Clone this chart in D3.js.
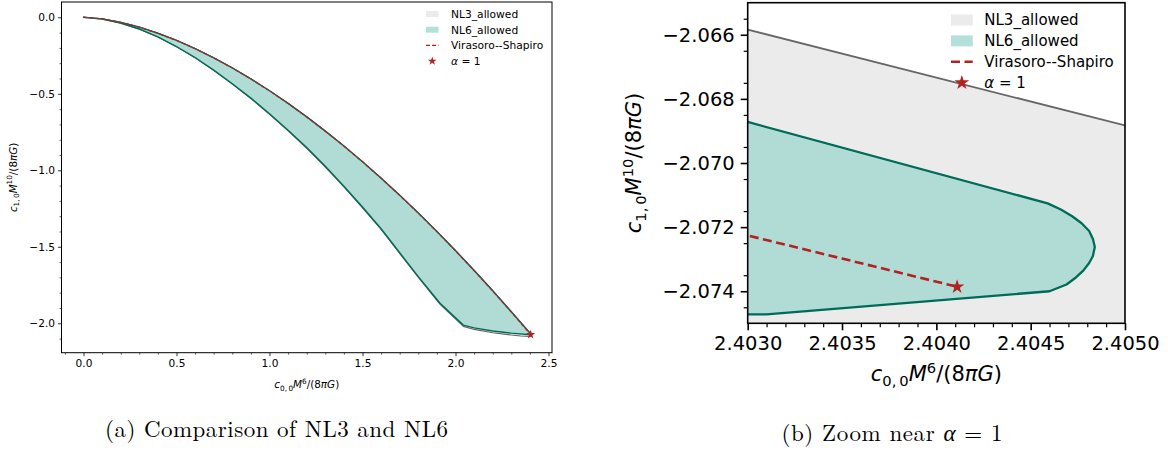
<!DOCTYPE html>
<html>
<head>
<meta charset="utf-8">
<script src="https://cdn.jsdelivr.net/npm/d3@7"></script>
<style>
  body { margin: 0; background: #fff; }
  svg { display: block; }
  text { fill: #000; }
</style>
</head>
<body>
<svg id="fig" width="1168" height="451" font-family="DejaVu Sans, sans-serif"></svg>
<script>
// ---------------- data ----------------
// Virasoro--Shapiro curve (c00, c10), ending at alpha = 1
const vsCurve = [
  [0, 0], [0.1, -0.0104], [0.2, -0.0329], [0.3, -0.0646], [0.4, -0.1044], [0.5, -0.1514],
  [0.6, -0.2052], [0.7, -0.2653], [0.8, -0.3315], [0.9, -0.4033], [1.0, -0.4807],
  [1.1, -0.5634], [1.2, -0.6514], [1.3, -0.7444], [1.4, -0.8422], [1.5, -0.9448],
  [1.6, -1.0521], [1.7, -1.1640], [1.8, -1.2803], [1.9, -1.4010], [2.0, -1.5261],
  [2.1, -1.6554], [2.2, -1.7888], [2.3, -1.9264], [2.4, -2.0680],
  [2.4030, -2.07226], [2.4035, -2.07298], [2.40411, -2.07386]
];
const alphaOne = [2.40411, -2.07386];

// NL3 allowed region: upper edge, then lower edge back to the origin
const nl3Upper = [
  [0, 0], [0.1, -0.0102], [0.2, -0.0326], [0.3, -0.0642], [0.4, -0.1040], [0.5, -0.1508],
  [0.6, -0.2045], [0.7, -0.2645], [0.8, -0.3306], [0.9, -0.4023], [1.0, -0.4796],
  [1.1, -0.5622], [1.2, -0.6501], [1.3, -0.7430], [1.4, -0.8407], [1.5, -0.9432],
  [1.6, -1.0503], [1.7, -1.1621], [1.8, -1.2783], [1.9, -1.3988], [2.0, -1.5237],
  [2.1, -1.6529], [2.2, -1.7861], [2.3, -1.9231], [2.4, -2.0614],
  [2.4030, -2.06584], [2.4050, -2.06883], [2.4075, -2.0726], [2.4090, -2.0770], [2.4085, -2.0810]
];
const nl3Lower = [
  [2.4060, -2.0840], [2.4000, -2.0860], [2.35, -2.0830], [2.3, -2.0770], [2.2, -2.0620],
  [2.1, -2.0400], [2.042, -2.0200], [1.917, -1.8760], [1.8, -1.7000], [1.7, -1.5440],
  [1.6, -1.3870], [1.5, -1.2450], [1.4, -1.1090], [1.3, -0.9790], [1.2, -0.8560],
  [1.1, -0.7420], [1.0, -0.6340], [0.9, -0.5310], [0.8, -0.4370], [0.7, -0.3470],
  [0.6, -0.2650], [0.5, -0.1930], [0.4, -0.1295], [0.3, -0.0772], [0.2, -0.0382],
  [0.1, -0.0116], [0, 0]
];

// NL6 allowed region: upper edge, rounded right tip, lower edge back to the origin
const nl6Upper = [
  [0, 0], [0.1, -0.0103], [0.2, -0.0328], [0.3, -0.0645], [0.4, -0.1043], [0.5, -0.1512],
  [0.6, -0.2050], [0.7, -0.2650], [0.8, -0.3312], [0.9, -0.4030], [1.0, -0.4803],
  [1.1, -0.5630], [1.2, -0.6510], [1.3, -0.7440], [1.4, -0.8417], [1.5, -0.9443],
  [1.6, -1.0515], [1.7, -1.1634], [1.8, -1.2797], [1.9, -1.4003], [2.0, -1.5253],
  [2.1, -1.6546], [2.2, -1.7879], [2.3, -1.9250], [2.4, -2.0640],
  [2.4030, -2.06872], [2.40459, -2.07126]
];
const nl6Tip = [
  [2.40466, -2.07145], [2.40472, -2.07166], [2.40477, -2.07188], [2.40481, -2.07212],
  [2.40483, -2.07237], [2.40484, -2.07262], [2.40483, -2.07290], [2.40481, -2.07312],
  [2.40478, -2.07335], [2.40474, -2.07357], [2.40469, -2.07379]
];
const nl6Lower = [
  [2.40460, -2.07400], [2.40310, -2.07472], [2.40300, -2.07472], [2.3, -2.0640],
  [2.2, -2.0500], [2.1, -2.0300], [2.042, -2.0120], [1.917, -1.8690], [1.8, -1.6950],
  [1.7, -1.5390], [1.6, -1.3820], [1.5, -1.2400], [1.4, -1.1040], [1.3, -0.9740],
  [1.2, -0.8510], [1.1, -0.7380], [1.0, -0.6310], [0.9, -0.5280], [0.8, -0.4345],
  [0.7, -0.3450], [0.6, -0.2630], [0.5, -0.1910], [0.4, -0.1280], [0.3, -0.0766],
  [0.2, -0.0379], [0.1, -0.0114], [0, 0]
];

// ticks
const leftXTicks = [0, 0.5, 1.0, 1.5, 2.0, 2.5];
const leftXMinor = [-0.1, 0.1, 0.2, 0.3, 0.4, 0.6, 0.7, 0.8, 0.9, 1.1, 1.2, 1.3, 1.4, 1.6, 1.7, 1.8, 1.9, 2.1, 2.2, 2.3, 2.4];
const leftYTicks = [0, -0.5, -1.0, -1.5, -2.0];
const leftYMinor = [-0.1, -0.2, -0.3, -0.4, -0.6, -0.7, -0.8, -0.9, -1.1, -1.2, -1.3, -1.4, -1.6, -1.7, -1.8, -1.9, -2.1];
const rightXTicks = [2.4030, 2.4035, 2.4040, 2.4045, 2.4050];
const rightXMinor = [2.4031, 2.4032, 2.4033, 2.4034, 2.4036, 2.4037, 2.4038, 2.4039,
                     2.4041, 2.4042, 2.4043, 2.4044, 2.4046, 2.4047, 2.4048, 2.4049];
const rightYTicks = [-2.074, -2.072, -2.070, -2.068, -2.066];
const rightYMinor = [-2.0745, -2.0735, -2.0725, -2.0715, -2.0705, -2.0695, -2.0685, -2.0675, -2.0665, -2.0655];

const legendLabels = ["NL3_allowed", "NL6_allowed", "Virasoro--Shapiro", "α = 1"];
const captions = ["(a) Comparison of NL3 and NL6", "(b) Zoom near ", "α", " = 1"];

// ---------------- styles ----------------
const NL3_FILL = "#ebebeb", NL3_EDGE = "#666666";
const NL6_FILL = "#b0dcd5", NL6_EDGE = "#006b58";
const VS_RED = "#b22222";
const SANS = "DejaVu Sans, sans-serif";

const svg = d3.select("#fig");

function starPath(r) {
  const ri = r * 0.382;
  let p = "";
  for (let k = 0; k < 10; k++) {
    const a = -Math.PI / 2 + k * Math.PI / 5;
    const rr = k % 2 ? ri : r;
    p += (k ? "L" : "M") + (rr * Math.cos(a)).toFixed(2) + "," + (rr * Math.sin(a)).toFixed(2);
  }
  return p + "Z";
}

// label with italic symbols, sub- and superscripts
function mathLabel(g, x, y, parts, size, rotate) {
  const t = g.append("text")
    .attr("text-anchor", "middle")
    .style("font-family", SANS)
    .attr("font-size", size)
    .attr("transform", `translate(${x},${y})` + (rotate ? " rotate(-90)" : ""));
  let cur = 0;
  parts.forEach(([s, kind]) => {
    let target = 0, fs = size;
    if (kind === "sub") { target = 0.24 * size; fs = 0.7 * size; }
    if (kind === "sup") { target = -0.40 * size; fs = 0.7 * size; }
    const ts = t.append("tspan").text(s).attr("font-size", fs).attr("dy", target - cur);
    if (kind === "i") ts.attr("font-style", "italic");
    cur = target;
  });
}

const xLabelParts = [["c", "i"], ["0,\u20090", "sub"], ["M", "i"], ["6", "sup"], ["/(8", ""], ["π", "i"], ["G", "i"], [")", ""]];
const yLabelParts = [["c", "i"], ["1,\u20090", "sub"], ["M", "i"], ["10", "sup"], ["/(8", ""], ["π", "i"], ["G", "i"], [")", ""]];

function drawPanel(cfg) {
  const g = svg.append("g");
  const x = d3.scaleLinear().domain(cfg.xDomain).range([cfg.left, cfg.right]);
  const y = d3.scaleLinear().domain(cfg.yDomain).range([cfg.bottom, cfg.top]);
  const clipId = "clip" + cfg.id;
  g.append("clipPath").attr("id", clipId).append("rect")
    .attr("x", cfg.left).attr("y", cfg.top)
    .attr("width", cfg.right - cfg.left).attr("height", cfg.bottom - cfg.top);

  const line = d3.line().x(d => x(d[0])).y(d => y(d[1]));
  const plot = g.append("g").attr("clip-path", `url(#${clipId})`);

  plot.append("path").datum(nl3Upper.concat(nl3Lower))
    .attr("d", d => line(d) + "Z")
    .attr("fill", NL3_FILL).attr("stroke", NL3_EDGE)
    .attr("stroke-width", cfg.nl3W).attr("stroke-linejoin", "round");
  plot.append("path").datum(nl6Upper.concat(nl6Tip, nl6Lower))
    .attr("d", d => line(d) + "Z")
    .attr("fill", NL6_FILL).attr("stroke", NL6_EDGE)
    .attr("stroke-width", cfg.nl6W).attr("stroke-linejoin", "round");
  plot.append("path").datum(vsCurve)
    .attr("d", line).attr("fill", "none")
    .attr("stroke", VS_RED).attr("stroke-width", cfg.vsW)
    .attr("stroke-dasharray", cfg.vsDash);
  plot.append("path").attr("d", starPath(cfg.starR))
    .attr("transform", `translate(${x(alphaOne[0])},${y(alphaOne[1])})`)
    .attr("fill", VS_RED);

  // axes
  const axStyle = (sel, w) => {
    sel.select(".domain").remove();
    sel.attr("font-family", SANS);
    sel.selectAll(".tick line").attr("stroke", "#000").attr("stroke-width", w);
    sel.selectAll(".tick text").attr("fill", "#000");
  };
  g.append("g").attr("transform", `translate(0,${cfg.bottom})`)
    .call(d3.axisBottom(x).tickValues(cfg.xTicks).tickFormat(cfg.fmtX)
      .tickSize(cfg.tickLen).tickPadding(cfg.tickPad))
    .attr("font-size", cfg.tickFont)
    .call(s => axStyle(s, cfg.tickW));
  g.append("g").attr("transform", `translate(0,${cfg.bottom})`)
    .call(d3.axisBottom(x).tickValues(cfg.xMinor).tickFormat("").tickSize(cfg.minorLen))
    .call(s => axStyle(s, cfg.minorW));
  g.append("g").attr("transform", `translate(${cfg.left},0)`)
    .call(d3.axisLeft(y).tickValues(cfg.yTicks).tickFormat(cfg.fmtY)
      .tickSize(cfg.tickLen).tickPadding(cfg.tickPad))
    .attr("font-size", cfg.tickFont)
    .call(s => axStyle(s, cfg.tickW));
  g.append("g").attr("transform", `translate(${cfg.left},0)`)
    .call(d3.axisLeft(y).tickValues(cfg.yMinor).tickFormat("").tickSize(cfg.minorLen))
    .call(s => axStyle(s, cfg.minorW));

  g.append("rect")
    .attr("x", cfg.left).attr("y", cfg.top)
    .attr("width", cfg.right - cfg.left).attr("height", cfg.bottom - cfg.top)
    .attr("fill", "none").attr("stroke", "#000").attr("stroke-width", cfg.spineW);

  // axis labels
  mathLabel(g, (cfg.left + cfg.right) / 2, cfg.xLabelY, xLabelParts, cfg.labelFont, false);
  mathLabel(g, cfg.yLabelX, (cfg.top + cfg.bottom) / 2, yLabelParts, cfg.labelFont, true);

  // legend (no frame)
  const L = cfg.legend;
  const lg = g.append("g");
  legendLabels.forEach((lab, i) => {
    const cy = L.y0 + i * L.dy;
    if (i === 0 || i === 1) {
      lg.append("rect").attr("x", L.x0).attr("y", cy - L.ph / 2)
        .attr("width", L.pw).attr("height", L.ph)
        .attr("fill", i === 0 ? NL3_FILL : "#b4e0da");
    } else if (i === 2) {
      lg.append("line").attr("x1", L.x0).attr("x2", L.x0 + L.pw)
        .attr("y1", cy).attr("y2", cy)
        .attr("stroke", VS_RED).attr("stroke-width", cfg.vsW)
        .attr("stroke-dasharray", cfg.vsDash);
    } else {
      lg.append("path").attr("d", starPath(L.starR))
        .attr("transform", `translate(${L.x0 + L.pw / 2},${cy})`)
        .attr("fill", VS_RED);
    }
    const t = lg.append("text").attr("x", L.tx).attr("y", cy + L.fs * 0.36)
      .style("font-family", SANS).attr("font-size", L.fs);
    if (i === 3) {
      t.append("tspan").attr("font-style", "italic").text("α");
      t.append("tspan").text(" = 1");
    } else {
      t.text(lab);
    }
  });
}

const minus = s => s.replace("-", "\u2212");

drawPanel({
  id: "a",
  xDomain: [-0.1183, 2.5188], yDomain: [-2.1922, 0.1],
  left: 61.5, right: 552, top: 2, bottom: 352.7,
  xTicks: leftXTicks, xMinor: leftXMinor, yTicks: leftYTicks, yMinor: leftYMinor,
  fmtX: d => d3.format(".1f")(d), fmtY: d => minus(d3.format(".1f")(d)),
  tickLen: 3.5, minorLen: 2, tickPad: 3, tickW: 0.8, minorW: 0.6, spineW: 1,
  tickFont: 10.6, labelFont: 10.4, xLabelY: 388, yLabelX: 16.5,
  nl3W: 1.1, nl6W: 1.4, vsW: 1.3, vsDash: "4,2", starR: 4.8,
  legend: { x0: 426, pw: 12.5, ph: 6, tx: 451, y0: 14, dy: 15.7, fs: 10.7, starR: 4.6 }
});

drawPanel({
  id: "b",
  xDomain: [2.4030, 2.4050], yDomain: [-2.075, -2.065],
  left: 747.7, right: 1125, top: 2.7, bottom: 323.3,
  xTicks: rightXTicks, xMinor: rightXMinor, yTicks: rightYTicks, yMinor: rightYMinor,
  fmtX: d => d3.format(".4f")(d), fmtY: d => minus(d3.format(".3f")(d)),
  tickLen: 7, minorLen: 4, tickPad: 6, tickW: 1.6, minorW: 1.2, spineW: 1.6,
  tickFont: 19.5, labelFont: 21, xLabelY: 381, yLabelX: 641,
  nl3W: 1.8, nl6W: 2.3, vsW: 2.6, vsDash: "9,4.5", starR: 7.6,
  legend: { x0: 951, pw: 21.7, ph: 11, tx: 984.3, y0: 20, dy: 20.9, fs: 15, starR: 7.8 }
});

// sub-figure captions
const capFont = "'Latin Modern Roman', 'CMU Serif', 'Liberation Serif', serif";
svg.append("text").attr("x", 276.5).attr("y", 437).attr("text-anchor", "middle")
  .style("font-family", capFont).attr("font-size", 23)
  .attr("textLength", 343).attr("lengthAdjust", "spacing")
  .text(captions[0]);
const capB = svg.append("text").attr("x", 892).attr("y", 441).attr("text-anchor", "middle")
  .style("font-family", capFont).attr("font-size", 23)
  .attr("textLength", 221).attr("lengthAdjust", "spacing");
capB.append("tspan").text(captions[1]);
capB.append("tspan").attr("font-style", "italic").text(captions[2]);
capB.append("tspan").text(captions[3]);
</script>
</body>
</html>
